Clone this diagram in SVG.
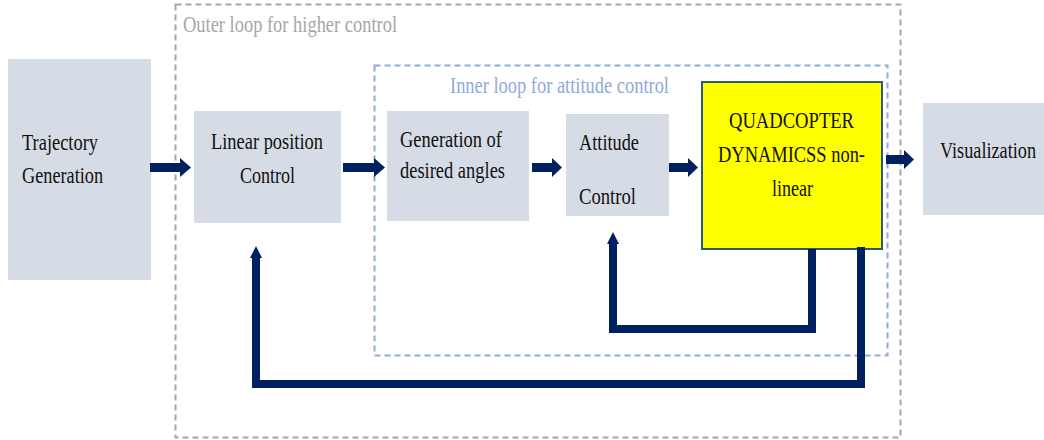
<svg xmlns="http://www.w3.org/2000/svg" width="1044" height="440" viewBox="0 0 1044 440" font-family="'Times New Roman', 'Liberation Serif', Tinos, 'DejaVu Serif', serif">
<defs>
<style>
.box{fill:#d6dce5;stroke:none}
text{font-family:"Times New Roman","Liberation Serif",Tinos,"DejaVu Serif",serif;font-size:24px}
.t{fill:#111}
.blk{fill:#002060}
.fb{fill:none;stroke:#002060;stroke-width:8;stroke-linejoin:miter}
</style>
<marker id="ah" markerUnits="userSpaceOnUse" markerWidth="14" markerHeight="12" viewBox="0 0 14 12" refX="4" refY="6" orient="auto">
<path d="M0,0 L12,6 L0,12 Z" fill="#002060"/>
</marker>
</defs>
<rect width="1044" height="440" fill="#fff"/>
<g id="outer-loop">
<rect x="175.5" y="4.5" width="725" height="433" fill="none" stroke="#a6a6a6" stroke-width="2" stroke-dasharray="6,4"/>
<text transform="translate(183,32) scale(0.8,1)" fill="#a6a6a6" textLength="267.5" lengthAdjust="spacingAndGlyphs">Outer loop for higher control</text>
</g>
<g id="inner-loop">
<rect x="374.5" y="65.5" width="513" height="290" fill="none" stroke="#8faadc" stroke-width="2" stroke-dasharray="6,4"/>
<text transform="translate(450,93) scale(0.8,1)" fill="#8faadc" textLength="273.75" lengthAdjust="spacingAndGlyphs">Inner loop for attitude control</text>
</g>
<g id="trajectory">
<rect class="box" x="8" y="59" width="143" height="221"/>
<text class="t" transform="translate(22,150) scale(0.8,1)" textLength="95" lengthAdjust="spacingAndGlyphs">Trajectory</text>
<text class="t" transform="translate(22,183) scale(0.8,1)" textLength="101.25" lengthAdjust="spacingAndGlyphs">Generation</text>
</g>
<g id="linear-position">
<rect class="box" x="194" y="111" width="147" height="112"/>
<text class="t" transform="translate(211,149) scale(0.8,1)" textLength="140" lengthAdjust="spacingAndGlyphs">Linear position</text>
<text class="t" transform="translate(240,183) scale(0.8,1)" textLength="68.75" lengthAdjust="spacingAndGlyphs">Control</text>
</g>
<g id="desired-angles">
<rect class="box" x="387" y="111" width="142" height="110"/>
<text class="t" transform="translate(400,147) scale(0.8,1)" textLength="127.5" lengthAdjust="spacingAndGlyphs">Generation of</text>
<text class="t" transform="translate(400,178) scale(0.8,1)" textLength="131.25" lengthAdjust="spacingAndGlyphs">desired angles</text>
</g>
<g id="attitude">
<rect class="box" x="566" y="114" width="103" height="102"/>
<text class="t" transform="translate(579,150) scale(0.8,1)" textLength="75" lengthAdjust="spacingAndGlyphs">Attitude</text>
<text class="t" transform="translate(579,204) scale(0.8,1)" textLength="71.25" lengthAdjust="spacingAndGlyphs">Control</text>
</g>
<g id="quadcopter">
<rect x="702" y="82" width="180" height="167" fill="#ffff00" stroke="#2f5581" stroke-width="2"/>
<text class="t" transform="translate(729,128) scale(0.8,1)" textLength="156.25" lengthAdjust="spacingAndGlyphs">QUADCOPTER</text>
<text class="t" transform="translate(718,162) scale(0.8,1)" textLength="183.75" lengthAdjust="spacingAndGlyphs">DYNAMICSS non-</text>
<text class="t" transform="translate(772,196) scale(0.8,1)" textLength="51.25" lengthAdjust="spacingAndGlyphs">linear</text>
</g>
<g id="visualization">
<rect class="box" x="923" y="103" width="121" height="112"/>
<text class="t" transform="translate(940,158) scale(0.8,1)" textLength="120" lengthAdjust="spacingAndGlyphs">Visualization</text>
</g>
<g id="connectors">
<path class="blk" d="M150,163 H180 V158 L191,167.5 L180,177 V172 H150 Z"/>
<path class="blk" d="M343,163 H374 V158 L385,167.5 L374,177 V172 H343 Z"/>
<path class="blk" d="M532,163 H552 V158 L562,167.5 L552,177 V172 H532 Z"/>
<path class="blk" d="M669,163 H688 V158 L698,167.5 L688,177 V172 H669 Z"/>
<path class="blk" d="M886,155 H904 V150 L914,159.5 L904,169 V164 H886 Z"/>
<path class="fb" d="M812,249 V329 H613 V240" marker-end="url(#ah)"/>
<path class="fb" d="M861,247 V384 H256 V254" marker-end="url(#ah)"/>
</g>
</svg>
